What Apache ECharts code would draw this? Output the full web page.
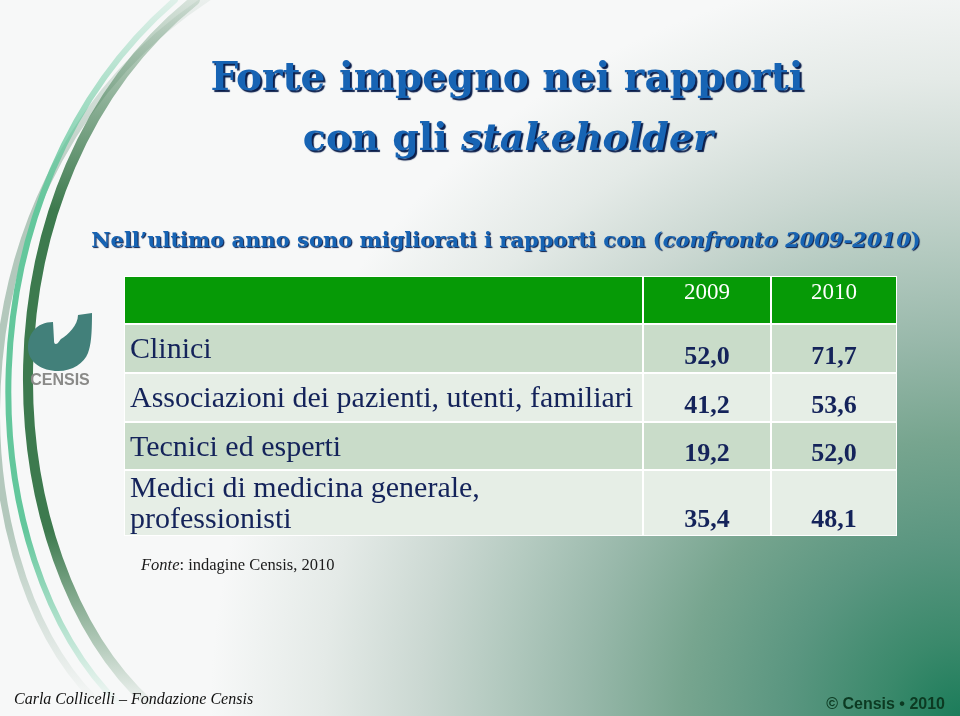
<!DOCTYPE html>
<html>
<head>
<meta charset="utf-8">
<script src="https://cdn.jsdelivr.net/npm/echarts@6/dist/echarts.min.js"></script>
<style>
  html, body { margin: 0; padding: 0; background: #fff; }
  #main { width: 960px; height: 716px; }
</style>
</head>
<body>
<div id="main"></div>
<script>
// ---- data ----
const years = ['2009', '2010'];
const categories = [
  'Clinici',
  'Associazioni dei pazienti, utenti, familiari',
  'Tecnici ed esperti',
  'Medici di medicina generale,\nprofessionisti'
];
const values2009 = [52.0, 41.2, 19.2, 35.4];
const values2010 = [71.7, 53.6, 52.0, 48.1];

// ---- layout ----
const SERIF = '"Liberation Serif","Times New Roman",serif';
const HEAD = '"DejaVu Serif",Cambria,serif';
const SANS = '"Liberation Sans",Arial,sans-serif';
const NAVY = '#14235a';
const BLUE = '#1764b4';
const TABLE = { left: 124, top: 276, width: 773, height: 260 };
const colEdges = [0, 519, 647, 773];
const rowEdges = [0, 48, 97, 146, 194, 260];
const rowFill = ['#c9dcc9', '#e6eee6'];
const LOGO_PATH = 'M53,322 C45,322 38,325 34,330 C29,336 28,342 28,348 C28,362 42,371 58,371 C73,371 84,363 88,353 C91,345 92,335 92,313 L78,315 C78,325 68,335 61,339 C59,341 58,344 56,344 C54,344 54,342 54,340 Z';

const fmt = v => v.toFixed(1).replace('.', ',');

function fade(hex, a) {
  const n = parseInt(hex.slice(1), 16);
  return 'rgba(' + (n >> 16) + ',' + ((n >> 8) & 255) + ',' + (n & 255) + ',' + a + ')';
}

function swoosh(p, w, color) {
  return {
    type: 'bezierCurve', silent: true, z: -5,
    shape: { x1: p[0], y1: p[1], cpx1: p[2], cpy1: p[3], cpx2: p[4], cpy2: p[5], x2: p[6], y2: p[7] },
    style: {
      fill: null, lineWidth: w, lineCap: 'round',
      stroke: new echarts.graphic.LinearGradient(0, 0, 0, 1, [
        { offset: 0, color: fade(color, 0.15) },
        { offset: 0.3, color: color },
        { offset: 0.75, color: color },
        { offset: 1, color: fade(color, 0) }
      ])
    }
  };
}

function headerItem(params, api) {
  const top = api.coord([0, rowEdges[0]])[1];
  const bot = api.coord([0, rowEdges[1]])[1];
  const end = api.coord([0, rowEdges[rowEdges.length - 1]])[1];
  const xs = colEdges.map(c => api.coord([c, 0])[0]);
  // white table body shows through as grid lines
  const children = [{ type: 'rect', shape: { x: xs[0], y: top, width: xs[3] - xs[0], height: end - top }, style: { fill: '#ffffff' } }];
  for (let c = 0; c < 3; c++) {
    children.push({ type: 'rect', shape: { x: xs[c] + 1, y: top + 1, width: xs[c + 1] - xs[c] - 2, height: bot - top - 2 }, style: { fill: '#069a06' } });
  }
  years.forEach((y, k) => {
    children.push({ type: 'text', style: { text: y, x: (xs[k + 1] + xs[k + 2]) / 2, y: top + 17, align: 'center', verticalAlign: 'middle', fill: '#ffffff', fontFamily: SERIF, fontSize: 23 } });
  });
  return { type: 'group', children };
}

function rowItem(params, api) {
  const i = api.value(0);
  const top = api.coord([0, rowEdges[i + 1]])[1];
  const bot = api.coord([0, rowEdges[i + 2]])[1];
  const xs = colEdges.map(c => api.coord([c, 0])[0]);
  const fill = rowFill[i % 2];
  const children = [];
  for (let c = 0; c < 3; c++) {
    children.push({ type: 'rect', shape: { x: xs[c] + 1, y: top + 1, width: xs[c + 1] - xs[c] - 2, height: bot - top - 2 }, style: { fill } });
  }
  children.push({ type: 'text', style: { text: categories[i], x: xs[0] + 6, y: (top + bot) / 2 + 2, verticalAlign: 'middle', fill: NAVY, fontFamily: SERIF, fontSize: 30, lineHeight: 31 } });
  [api.value(1), api.value(2)].forEach((v, k) => {
    children.push({ type: 'text', style: { text: fmt(v), x: (xs[k + 1] + xs[k + 2]) / 2, y: bot - 3, align: 'center', verticalAlign: 'bottom', fill: NAVY, fontFamily: SERIF, fontWeight: 'bold', fontSize: 26 } });
  });
  return { type: 'group', children };
}

const titleShadow = { textShadowColor: '#0a1d4a', textShadowOffsetX: 2, textShadowOffsetY: 2, textShadowBlur: 1 };
const subShadow = { textShadowColor: '#0a1d4a', textShadowOffsetX: 1, textShadowOffsetY: 1, textShadowBlur: 1 };

const chart = echarts.init(document.getElementById('main'), null, { renderer: 'canvas' });
chart.setOption({
  animation: false,
  grid: { left: TABLE.left, top: TABLE.top, width: TABLE.width, height: TABLE.height },
  xAxis: { type: 'value', min: 0, max: TABLE.width, show: false },
  yAxis: { type: 'value', min: 0, max: TABLE.height, inverse: true, show: false },
  graphic: [
    // background
    {
      type: 'rect', silent: true, z: -10,
      shape: { x: 0, y: 0, width: 960, height: 716 },
      style: {
        fill: new echarts.graphic.RadialGradient(960, 716, 750, [
          { offset: 0, color: '#1c7c5a' },
          { offset: 0.1, color: '#3a896b' },
          { offset: 0.23, color: '#5a9680' },
          { offset: 0.37, color: '#77a58f' },
          { offset: 0.5, color: '#98b8aa' },
          { offset: 0.62, color: '#b4cac0' },
          { offset: 0.72, color: '#cbd8d2' },
          { offset: 0.85, color: '#e4eae7' },
          { offset: 1, color: '#f7f8f8' }
        ], true)
      }
    },
    swoosh([212, -5, -60, 170, -45, 560, 95, 700], 7, '#b3c8bc'),
    swoosh([175, 0, -45, 190, -30, 560, 120, 705], 6, '#63c79c'),
    swoosh([195, 0, -30, 180, -10, 560, 150, 705], 10, '#3d7a4e'),
    {
      type: 'text', silent: true, x: 60, y: 381,
      style: { text: 'CENSIS', align: 'center', verticalAlign: 'middle', fill: '#8a8a88', fontFamily: SANS, fontWeight: 'bold', fontSize: 16 }
    },
    // titles
    {
      type: 'text', silent: true, x: 507, y: 80,
      style: Object.assign({ text: 'Forte impegno nei rapporti', align: 'center', verticalAlign: 'middle', fill: BLUE, fontFamily: HEAD, fontWeight: 'bold', fontSize: 39 }, titleShadow)
    },
    {
      type: 'text', silent: true, x: 508, y: 140,
      style: {
        text: '{n|con gli }{i|stakeholder}', align: 'center', verticalAlign: 'middle',
        rich: {
          n: Object.assign({ fill: BLUE, fontFamily: HEAD, fontWeight: 'bold', fontSize: 38 }, titleShadow),
          i: Object.assign({ fill: BLUE, fontFamily: HEAD, fontWeight: 'bold', fontStyle: 'italic', fontSize: 38 }, titleShadow)
        }
      }
    },
    {
      type: 'text', silent: true, x: 506, y: 242,
      style: {
        text: '{n|Nell\u2019ultimo anno sono migliorati i rapporti con (}{i|confronto 2009-2010}{n|)}', align: 'center', verticalAlign: 'middle',
        rich: {
          n: Object.assign({ fill: BLUE, fontFamily: HEAD, fontWeight: 'bold', fontSize: 21 }, subShadow),
          i: Object.assign({ fill: BLUE, fontFamily: HEAD, fontWeight: 'bold', fontStyle: 'italic', fontSize: 21 }, subShadow)
        }
      }
    },
    // source + footers
    {
      type: 'text', silent: true, x: 141, y: 566,
      style: {
        text: '{i|Fonte}{n|: indagine Censis, 2010}', verticalAlign: 'middle',
        rich: {
          i: { fill: '#1a1a1a', fontFamily: SERIF, fontStyle: 'italic', fontSize: 16.5 },
          n: { fill: '#1a1a1a', fontFamily: SERIF, fontSize: 16.5 }
        }
      }
    },
    {
      type: 'text', silent: true, x: 14, y: 700,
      style: { text: 'Carla Collicelli \u2013 Fondazione Censis', verticalAlign: 'middle', fill: '#111111', fontFamily: SERIF, fontStyle: 'italic', fontSize: 16 }
    },
    {
      type: 'text', silent: true, x: 945, y: 705,
      style: { text: '\u00a9 Censis \u2022 2010', align: 'right', verticalAlign: 'middle', fill: '#0c3a22', fontFamily: SANS, fontWeight: 'bold', fontSize: 16 }
    }
  ],
  series: [
    {
      type: 'custom', name: 'logo', silent: true, coordinateSystem: 'none',
      renderItem: () => ({ type: 'path', shape: { pathData: LOGO_PATH }, style: { fill: '#42807a' } }),
      data: [0]
    },
    {
      type: 'custom', name: 'header', silent: true,
      renderItem: headerItem,
      data: [[0]]
    },
    {
      type: 'custom', name: 'rows', silent: true,
      renderItem: rowItem,
      data: categories.map((c, i) => [i, values2009[i], values2010[i]])
    }
  ]
});
</script>
</body>
</html>
